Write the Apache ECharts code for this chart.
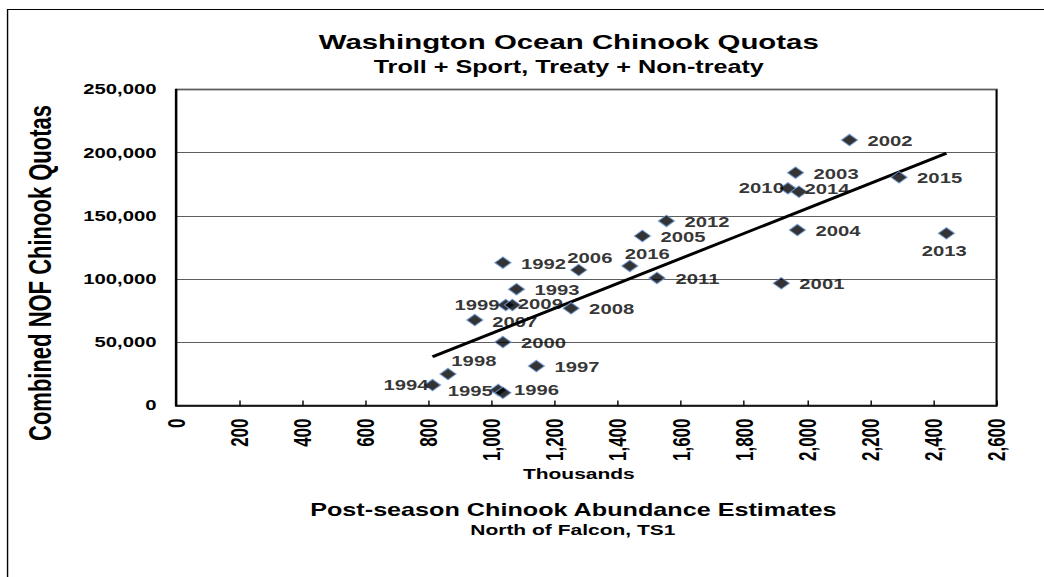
<!DOCTYPE html>
<html><head><meta charset="utf-8">
<script src="https://cdn.jsdelivr.net/npm/echarts@6/dist/echarts.min.js"></script>
<style>
html,body{margin:0;padding:0;background:#fff;overflow:hidden;}
#wrap{width:1044px;height:577px;overflow:hidden;}
#chart{width:746px;height:577px;transform:scale(1.3995,1);transform-origin:0 0;}
</style></head><body>
<div id="wrap"><div id="chart"></div></div>
<script>
// ---- data ----
const years = ['1992','1993','1994','1995','1996','1997','1998','1999','2000','2001','2002','2003','2004',
               '2005','2006','2007','2008','2009','2010','2011','2012','2013','2014','2015','2016'];
const abundance = [1036,1079,813,1021,1036,1142,862,1045,1036,1918,2134,1963,1969,
                   1478,1276,947,1252,1066,1939,1524,1554,2441,1974,2291,1438]; // thousands
const quotas = [113000,92000,16200,12300,10100,31200,24900,79500,50200,96700,210000,184200,138800,
                134100,107200,67600,76900,79500,171800,100900,146000,136200,169100,180500,110400];
const trendAbundance = [813, 2441];
const trendQuota = [38600, 199500];
const xTicks = [0,200,400,600,800,1000,1200,1400,1600,1800,2000,2200,2400,2600];
const yTicks = [0,50000,100000,150000,200000,250000];

// ---- label placement (style config, in chart px) ----
const defaultOffset = [29, 1];
const labelOffsets = {
  '1994': [-19, 0], '1995': [-20, 1], '1999': [-20.5, 0], '2010': [-19, -0.5],
  '2009': [20, -1], '2014': [20, -2.5], '1996': [24, -2.5],
  '2006': [8, -11.5], '2016': [12.5, -11.5], '1998': [18.5, -13],
  '2013': [-1.5, 17.5], '2007': [28.5, 2.5]
};

const FONT = '"Liberation Sans", Arial, sans-serif';
const fmt = v => Number(v).toLocaleString('en-US');

const chart = echarts.init(document.getElementById('chart'), null, {renderer: 'svg'});

const scatterData = years.map((yr, i) => ({
  name: yr,
  value: [abundance[i], quotas[i]],
  label: { offset: labelOffsets[yr] || defaultOffset }
}));

const trendData = trendAbundance.map((x, i) => [x, trendQuota[i]]);

function txt(text, x, y, size, rot) {
  return {
    type: 'text', x: x, y: y, rotation: rot || 0, silent: true, z: 10,
    style: {
      text: text, fill: '#000', fontSize: size, fontWeight: 'bold', fontFamily: FONT,
      align: 'center', verticalAlign: 'middle', textAlign: 'center', textVerticalAlign: 'middle'
    }
  };
}

chart.setOption({
  animation: false,
  backgroundColor: '#fff',
  grid: {
    left: 125.7, right: 33.9, top: 89.5, bottom: 171.5,
    show: true, borderColor: '#000', borderWidth: 1.5, backgroundColor: 'transparent'
  },
  xAxis: {
    type: 'value',
    min: xTicks[0], max: xTicks[xTicks.length - 1], interval: xTicks[1] - xTicks[0],
    axisLine: { show: true, lineStyle: { color: '#000', width: 1.5 } },
    axisTick: { show: true, inside: true, length: 5, lineStyle: { color: '#000', width: 1 } },
    splitLine: { show: false },
    axisLabel: {
      rotate: 90, margin: 13, color: '#000', fontSize: 17, fontWeight: 'bold', fontFamily: FONT,
      formatter: v => fmt(v)
    }
  },
  yAxis: {
    type: 'value',
    min: yTicks[0], max: yTicks[yTicks.length - 1], interval: yTicks[1] - yTicks[0],
    axisLine: { show: true, lineStyle: { color: '#000', width: 1.5 } },
    axisTick: { show: false },
    splitLine: { show: true, lineStyle: { color: '#5e5e5e', width: 1 } },
    axisLabel: {
      margin: 13.8, color: '#000', fontSize: 14.5, fontWeight: 'bold', fontFamily: FONT,
      formatter: v => fmt(v)
    }
  },
  series: [
    {
      type: 'line',
      data: trendData,
      showSymbol: false,
      symbol: 'none',
      lineStyle: { color: '#000', width: 2.8 },
      silent: true,
      z: 2
    },
    {
      type: 'scatter',
      data: scatterData,
      symbol: 'diamond',
      symbolSize: 11.5,
      itemStyle: { color: '#000', borderColor: '#6f9ad6', borderWidth: 1 },
      label: {
        show: true, position: 'inside', formatter: '{b}',
        color: '#000', fontSize: 14.5, fontWeight: 'bold', fontFamily: FONT
      },
      z: 3
    }
  ],
  graphic: [
    {
      type: 'polyline', silent: true, z: 0,
      shape: { points: [[5.4, 700], [5.4, 9.5], [900, 9.5]] },
      style: { fill: 'none', stroke: '#000', lineWidth: 1 }
    },
    txt('Washington Ocean Chinook Quotas', 406.4, 42, 21),
    txt('Troll + Sport, Treaty + Non-treaty', 406.4, 66.7, 18),
    txt('Thousands', 413.6, 473.5, 15),
    txt('Post-season Chinook Abundance Estimates', 409.7, 509.7, 18),
    txt('North of Falcon, TS1', 409.3, 530, 15),
    txt('Combined NOF Chinook Quotas', 29, 273, 22, Math.PI / 2)
  ]
});
</script>
</body></html>
